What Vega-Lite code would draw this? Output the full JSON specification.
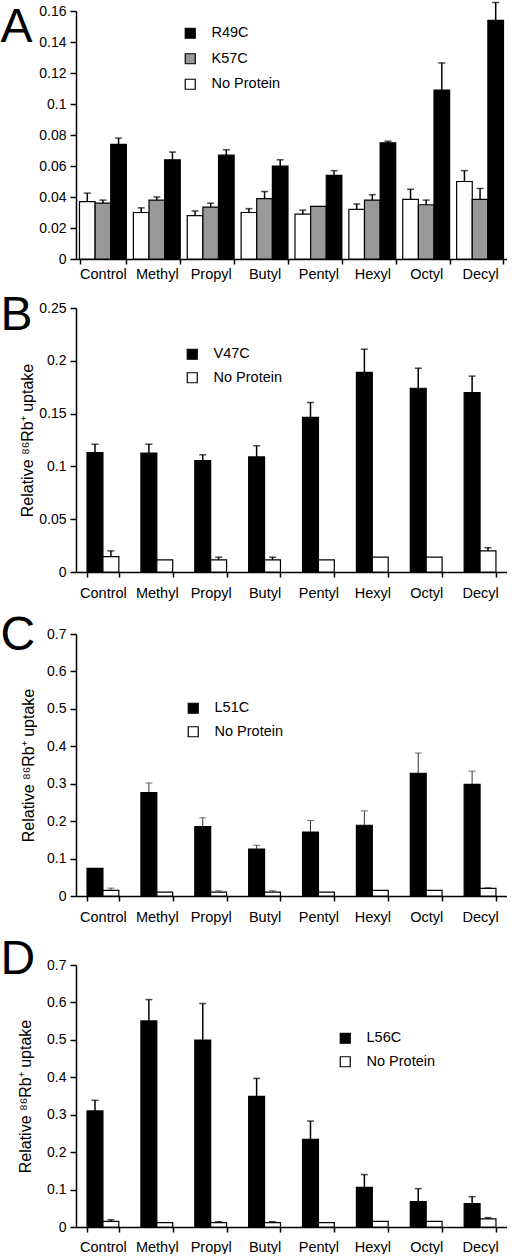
{
  "$schema": "https://vega.github.io/schema/vega-lite/v6.json",
  "padding": {"left": 0, "top": 1, "right": 0, "bottom": 0},
  "spacing": 49,
  "bounds": "flush",
  "config": {
    "font": "Liberation Sans",
    "view": {"stroke": null},
    "axis": {"labelFont": "Liberation Sans", "labelFontSize": 14, "labelColor": "black", "labelOverlap": false, "domainColor": "black", "domainWidth": 1.5, "tickColor": "black", "tickWidth": 1.5, "grid": false, "tickSize": 4, "titleFont": "Liberation Sans", "titleFontWeight": "normal", "titleFontSize": 14, "titleColor": "black"},
    "axisX": {"labelFontSize": 14.5, "titleFontSize": 48, "titleAngle": 0, "titleAlign": "left", "titleBaseline": "alphabetic", "titleX": -76},
    "axisY": {"tickSize": 6, "labelPadding": 4, "titleFontSize": 16},
    "legend": {"labelFont": "Liberation Sans", "labelFontSize": 14.5, "labelColor": "black", "symbolType": "square", "symbolSize": 100, "symbolStrokeColor": "black", "symbolStrokeWidth": 1.2, "labelOffset": 14}
  },
  "resolve": {"scale": {"fill": "independent", "x": "independent", "y": "independent", "xOffset": "independent"}, "legend": {"fill": "independent"}},
  "datasets": {
    "A": [
      {"cat": "Control", "series": "No Protein", "value": 0.037, "upper": 0.0425},
      {"cat": "Control", "series": "K57C", "value": 0.036, "upper": 0.038},
      {"cat": "Control", "series": "R49C", "value": 0.074, "upper": 0.078},
      {"cat": "Methyl", "series": "No Protein", "value": 0.030, "upper": 0.033},
      {"cat": "Methyl", "series": "K57C", "value": 0.038, "upper": 0.040},
      {"cat": "Methyl", "series": "R49C", "value": 0.064, "upper": 0.069},
      {"cat": "Propyl", "series": "No Protein", "value": 0.028, "upper": 0.031},
      {"cat": "Propyl", "series": "K57C", "value": 0.0335, "upper": 0.036},
      {"cat": "Propyl", "series": "R49C", "value": 0.067, "upper": 0.0705},
      {"cat": "Butyl", "series": "No Protein", "value": 0.030, "upper": 0.0325},
      {"cat": "Butyl", "series": "K57C", "value": 0.039, "upper": 0.0435},
      {"cat": "Butyl", "series": "R49C", "value": 0.060, "upper": 0.064},
      {"cat": "Pentyl", "series": "No Protein", "value": 0.029, "upper": 0.0315},
      {"cat": "Pentyl", "series": "K57C", "value": 0.034, "upper": null},
      {"cat": "Pentyl", "series": "R49C", "value": 0.054, "upper": 0.057},
      {"cat": "Hexyl", "series": "No Protein", "value": 0.032, "upper": 0.0355},
      {"cat": "Hexyl", "series": "K57C", "value": 0.038, "upper": 0.0415},
      {"cat": "Hexyl", "series": "R49C", "value": 0.075, "upper": 0.076},
      {"cat": "Octyl", "series": "No Protein", "value": 0.0385, "upper": 0.045},
      {"cat": "Octyl", "series": "K57C", "value": 0.035, "upper": 0.038},
      {"cat": "Octyl", "series": "R49C", "value": 0.109, "upper": 0.1265},
      {"cat": "Decyl", "series": "No Protein", "value": 0.050, "upper": 0.057},
      {"cat": "Decyl", "series": "K57C", "value": 0.0385, "upper": 0.0455},
      {"cat": "Decyl", "series": "R49C", "value": 0.154, "upper": 0.1655}
    ],
    "B": [
      {"cat": "Control", "series": "V47C", "value": 0.113, "upper": 0.121},
      {"cat": "Control", "series": "No Protein", "value": 0.0145, "upper": 0.020},
      {"cat": "Methyl", "series": "V47C", "value": 0.1125, "upper": 0.121},
      {"cat": "Methyl", "series": "No Protein", "value": 0.0115, "upper": null},
      {"cat": "Propyl", "series": "V47C", "value": 0.1055, "upper": 0.111},
      {"cat": "Propyl", "series": "No Protein", "value": 0.0115, "upper": 0.014},
      {"cat": "Butyl", "series": "V47C", "value": 0.109, "upper": 0.1195},
      {"cat": "Butyl", "series": "No Protein", "value": 0.0115, "upper": 0.014},
      {"cat": "Pentyl", "series": "V47C", "value": 0.1465, "upper": 0.1605},
      {"cat": "Pentyl", "series": "No Protein", "value": 0.0115, "upper": null},
      {"cat": "Hexyl", "series": "V47C", "value": 0.189, "upper": 0.211},
      {"cat": "Hexyl", "series": "No Protein", "value": 0.014, "upper": null},
      {"cat": "Octyl", "series": "V47C", "value": 0.174, "upper": 0.193},
      {"cat": "Octyl", "series": "No Protein", "value": 0.014, "upper": null},
      {"cat": "Decyl", "series": "V47C", "value": 0.170, "upper": 0.1855},
      {"cat": "Decyl", "series": "No Protein", "value": 0.020, "upper": 0.023}
    ],
    "C": [
      {"cat": "Control", "series": "L51C", "value": 0.074, "upper": null},
      {"cat": "Control", "series": "No Protein", "value": 0.015, "upper": 0.021},
      {"cat": "Methyl", "series": "L51C", "value": 0.276, "upper": 0.302},
      {"cat": "Methyl", "series": "No Protein", "value": 0.0105, "upper": null},
      {"cat": "Propyl", "series": "L51C", "value": 0.1855, "upper": 0.209},
      {"cat": "Propyl", "series": "No Protein", "value": 0.0105, "upper": 0.014},
      {"cat": "Butyl", "series": "L51C", "value": 0.1255, "upper": 0.1355},
      {"cat": "Butyl", "series": "No Protein", "value": 0.0105, "upper": 0.014},
      {"cat": "Pentyl", "series": "L51C", "value": 0.171, "upper": 0.2015},
      {"cat": "Pentyl", "series": "No Protein", "value": 0.0105, "upper": null},
      {"cat": "Hexyl", "series": "L51C", "value": 0.189, "upper": 0.2275},
      {"cat": "Hexyl", "series": "No Protein", "value": 0.015, "upper": null},
      {"cat": "Octyl", "series": "L51C", "value": 0.328, "upper": 0.382},
      {"cat": "Octyl", "series": "No Protein", "value": 0.015, "upper": null},
      {"cat": "Decyl", "series": "L51C", "value": 0.298, "upper": 0.3335},
      {"cat": "Decyl", "series": "No Protein", "value": 0.0205, "upper": 0.023}
    ],
    "D": [
      {"cat": "Control", "series": "L56C", "value": 0.310, "upper": 0.3385},
      {"cat": "Control", "series": "No Protein", "value": 0.015, "upper": 0.0195},
      {"cat": "Methyl", "series": "L56C", "value": 0.5505, "upper": 0.6075},
      {"cat": "Methyl", "series": "No Protein", "value": 0.0115, "upper": null},
      {"cat": "Propyl", "series": "L56C", "value": 0.4995, "upper": 0.597},
      {"cat": "Propyl", "series": "No Protein", "value": 0.0115, "upper": 0.014},
      {"cat": "Butyl", "series": "L56C", "value": 0.349, "upper": 0.397},
      {"cat": "Butyl", "series": "No Protein", "value": 0.0115, "upper": 0.014},
      {"cat": "Pentyl", "series": "L56C", "value": 0.234, "upper": 0.283},
      {"cat": "Pentyl", "series": "No Protein", "value": 0.0115, "upper": null},
      {"cat": "Hexyl", "series": "L56C", "value": 0.106, "upper": 0.140},
      {"cat": "Hexyl", "series": "No Protein", "value": 0.015, "upper": null},
      {"cat": "Octyl", "series": "L56C", "value": 0.068, "upper": 0.1025},
      {"cat": "Octyl", "series": "No Protein", "value": 0.015, "upper": null},
      {"cat": "Decyl", "series": "L56C", "value": 0.0625, "upper": 0.081},
      {"cat": "Decyl", "series": "No Protein", "value": 0.0215, "upper": 0.025}
    ]
  },
  "vconcat": [
    {
      "width": 431, "height": 248,
      "data": {"name": "A"},
      "encoding": {
        "x": {"field": "cat", "type": "nominal", "sort": ["Control", "Methyl", "Propyl", "Butyl", "Pentyl", "Hexyl", "Octyl", "Decyl"], "scale": {"paddingInner": 0.13, "paddingOuter": 0.065}, "axis": {"title": "A", "titleY": -218, "labelAngle": 0, "tickBand": "extent", "tickSize": 5, "labelPadding": 3}},
        "xOffset": {"field": "series", "type": "nominal", "sort": ["No Protein", "K57C", "R49C"], "scale": {"paddingInner": 0, "paddingOuter": 0}}
      },
      "layer": [
        {
          "mark": {"type": "bar", "stroke": "black", "strokeWidth": 1.2},
          "encoding": {
            "y": {"field": "value", "type": "quantitative", "title": null, "scale": {"domain": [0, 0.16], "nice": false}, "axis": {"values": [0, 0.02, 0.04, 0.06, 0.08, 0.1, 0.12, 0.14, 0.16], "format": ".2~f"}},
            "fill": {"field": "series", "type": "nominal", "scale": {"domain": ["R49C", "K57C", "No Protein"], "range": ["#000000", "#999999", "#ffffff"]}, "legend": {"title": null, "orient": "none", "legendX": 107, "legendY": 15, "rowPadding": 9.5}}
          }
        },
        {
          "transform": [{"filter": "datum.upper != null"}],
          "mark": {"type": "rule", "color": "black", "strokeWidth": 1.5},
          "encoding": {
            "y": {"field": "value", "type": "quantitative", "title": null, "scale": {"domain": [0, 0.16], "nice": false}, "axis": {"values": [0, 0.02, 0.04, 0.06, 0.08, 0.1, 0.12, 0.14, 0.16], "format": ".2~f"}},
            "y2": {"field": "upper"}
          }
        },
        {
          "transform": [{"filter": "datum.upper != null"}],
          "mark": {"type": "tick", "orient": "horizontal", "color": "black", "size": 7, "thickness": 1.5},
          "encoding": {
            "y": {"field": "upper", "type": "quantitative", "title": null, "scale": {"domain": [0, 0.16], "nice": false}, "axis": {"values": [0, 0.02, 0.04, 0.06, 0.08, 0.1, 0.12, 0.14, 0.16], "format": ".2~f"}}
          }
        }
      ]
    },
    {
      "spacing": 62,
      "bounds": "flush",
      "resolve": {"scale": {"fill": "independent", "x": "independent", "y": "independent", "xOffset": "independent"}, "legend": {"fill": "independent"}},
      "vconcat": [
        {
          "width": 431, "height": 264,
          "data": {"name": "B"},
          "encoding": {
            "x": {"field": "cat", "type": "nominal", "sort": ["Control", "Methyl", "Propyl", "Butyl", "Pentyl", "Hexyl", "Octyl", "Decyl"], "scale": {"paddingInner": 0.41, "paddingOuter": 0.205}, "axis": {"title": "B", "titleY": -243, "labelAngle": 0, "tickBand": "extent", "tickSize": 5, "labelPadding": 9}},
            "xOffset": {"field": "series", "type": "nominal", "sort": ["V47C", "No Protein"], "scale": {"paddingInner": 0, "paddingOuter": 0}}
          },
          "layer": [
            {
              "mark": {"type": "bar", "stroke": "black", "strokeWidth": 1.2},
              "encoding": {
                "y": {"field": "value", "type": "quantitative", "title": "Relative ⁸⁶Rb⁺ uptake", "scale": {"domain": [0, 0.25], "nice": false}, "axis": {"values": [0, 0.05, 0.1, 0.15, 0.2, 0.25], "format": ".2~f", "titlePadding": 3}},
                "fill": {"field": "series", "type": "nominal", "scale": {"domain": ["V47C", "No Protein"], "range": ["#000000", "#ffffff"]}, "legend": {"title": null, "orient": "none", "legendX": 109, "legendY": 39, "rowPadding": 7.5}}
              }
            },
            {
              "transform": [{"filter": "datum.upper != null"}],
              "mark": {"type": "rule", "color": "black", "strokeWidth": 1.5},
              "encoding": {
                "y": {"field": "value", "type": "quantitative", "title": "Relative ⁸⁶Rb⁺ uptake", "scale": {"domain": [0, 0.25], "nice": false}, "axis": {"values": [0, 0.05, 0.1, 0.15, 0.2, 0.25], "format": ".2~f", "titlePadding": 3}},
                "y2": {"field": "upper"}
              }
            },
            {
              "transform": [{"filter": "datum.upper != null"}],
              "mark": {"type": "tick", "orient": "horizontal", "color": "black", "size": 7, "thickness": 1.5},
              "encoding": {
                "y": {"field": "upper", "type": "quantitative", "title": "Relative ⁸⁶Rb⁺ uptake", "scale": {"domain": [0, 0.25], "nice": false}, "axis": {"values": [0, 0.05, 0.1, 0.15, 0.2, 0.25], "format": ".2~f", "titlePadding": 3}}
              }
            }
          ]
        },
        {
          "spacing": 69,
          "bounds": "flush",
          "resolve": {"scale": {"fill": "independent", "x": "independent", "y": "independent", "xOffset": "independent"}, "legend": {"fill": "independent"}},
          "vconcat": [
            {
              "width": 431, "height": 262,
              "data": {"name": "C"},
              "encoding": {
                "x": {"field": "cat", "type": "nominal", "sort": ["Control", "Methyl", "Propyl", "Butyl", "Pentyl", "Hexyl", "Octyl", "Decyl"], "scale": {"paddingInner": 0.41, "paddingOuter": 0.205}, "axis": {"title": "C", "titleY": -247, "labelAngle": 0, "tickBand": "extent", "tickSize": 5, "labelPadding": 9}},
                "xOffset": {"field": "series", "type": "nominal", "sort": ["L51C", "No Protein"], "scale": {"paddingInner": 0, "paddingOuter": 0}}
              },
              "layer": [
                {
                  "mark": {"type": "bar", "stroke": "black", "strokeWidth": 1.2},
                  "encoding": {
                    "y": {"field": "value", "type": "quantitative", "title": "Relative ⁸⁶Rb⁺ uptake", "scale": {"domain": [0, 0.7], "nice": false}, "axis": {"values": [0, 0.1, 0.2, 0.3, 0.4, 0.5, 0.6, 0.7], "format": ".1~f", "titlePadding": 10}},
                    "fill": {"field": "series", "type": "nominal", "scale": {"domain": ["L51C", "No Protein"], "range": ["#000000", "#ffffff"]}, "legend": {"title": null, "orient": "none", "legendX": 110, "legendY": 67, "rowPadding": 7.5}}
                  }
                },
                {
                  "transform": [{"filter": "datum.upper != null"}],
                  "mark": {"type": "rule", "color": "#333333", "strokeWidth": 1},
                  "encoding": {
                    "y": {"field": "value", "type": "quantitative", "title": "Relative ⁸⁶Rb⁺ uptake", "scale": {"domain": [0, 0.7], "nice": false}, "axis": {"values": [0, 0.1, 0.2, 0.3, 0.4, 0.5, 0.6, 0.7], "format": ".1~f", "titlePadding": 10}},
                    "y2": {"field": "upper"}
                  }
                },
                {
                  "transform": [{"filter": "datum.upper != null"}],
                  "mark": {"type": "tick", "orient": "horizontal", "color": "#333333", "size": 7, "thickness": 1},
                  "encoding": {
                    "y": {"field": "upper", "type": "quantitative", "title": "Relative ⁸⁶Rb⁺ uptake", "scale": {"domain": [0, 0.7], "nice": false}, "axis": {"values": [0, 0.1, 0.2, 0.3, 0.4, 0.5, 0.6, 0.7], "format": ".1~f", "titlePadding": 10}}
                  }
                }
              ]
            },
            {
              "width": 431, "height": 262,
              "data": {"name": "D"},
              "encoding": {
                "x": {"field": "cat", "type": "nominal", "sort": ["Control", "Methyl", "Propyl", "Butyl", "Pentyl", "Hexyl", "Octyl", "Decyl"], "scale": {"paddingInner": 0.41, "paddingOuter": 0.205}, "axis": {"title": "D", "titleY": -254, "labelAngle": 0, "tickBand": "extent", "tickSize": 5, "labelPadding": 8}},
                "xOffset": {"field": "series", "type": "nominal", "sort": ["L56C", "No Protein"], "scale": {"paddingInner": 0, "paddingOuter": 0}}
              },
              "layer": [
                {
                  "mark": {"type": "bar", "stroke": "black", "strokeWidth": 1.2},
                  "encoding": {
                    "y": {"field": "value", "type": "quantitative", "title": "Relative ⁸⁶Rb⁺ uptake", "scale": {"domain": [0, 0.7], "nice": false}, "axis": {"values": [0, 0.1, 0.2, 0.3, 0.4, 0.5, 0.6, 0.7], "format": ".1~f", "titlePadding": 13}},
                    "fill": {"field": "series", "type": "nominal", "scale": {"domain": ["L56C", "No Protein"], "range": ["#000000", "#ffffff"]}, "legend": {"title": null, "orient": "none", "legendX": 262, "legendY": 66, "rowPadding": 7.5}}
                  }
                },
                {
                  "transform": [{"filter": "datum.upper != null"}],
                  "mark": {"type": "rule", "color": "black", "strokeWidth": 1.5},
                  "encoding": {
                    "y": {"field": "value", "type": "quantitative", "title": "Relative ⁸⁶Rb⁺ uptake", "scale": {"domain": [0, 0.7], "nice": false}, "axis": {"values": [0, 0.1, 0.2, 0.3, 0.4, 0.5, 0.6, 0.7], "format": ".1~f", "titlePadding": 13}},
                    "y2": {"field": "upper"}
                  }
                },
                {
                  "transform": [{"filter": "datum.upper != null"}],
                  "mark": {"type": "tick", "orient": "horizontal", "color": "black", "size": 7, "thickness": 1.5},
                  "encoding": {
                    "y": {"field": "upper", "type": "quantitative", "title": "Relative ⁸⁶Rb⁺ uptake", "scale": {"domain": [0, 0.7], "nice": false}, "axis": {"values": [0, 0.1, 0.2, 0.3, 0.4, 0.5, 0.6, 0.7], "format": ".1~f", "titlePadding": 13}}
                  }
                }
              ]
            }
          ]
        }
      ]
    }
  ]
}
